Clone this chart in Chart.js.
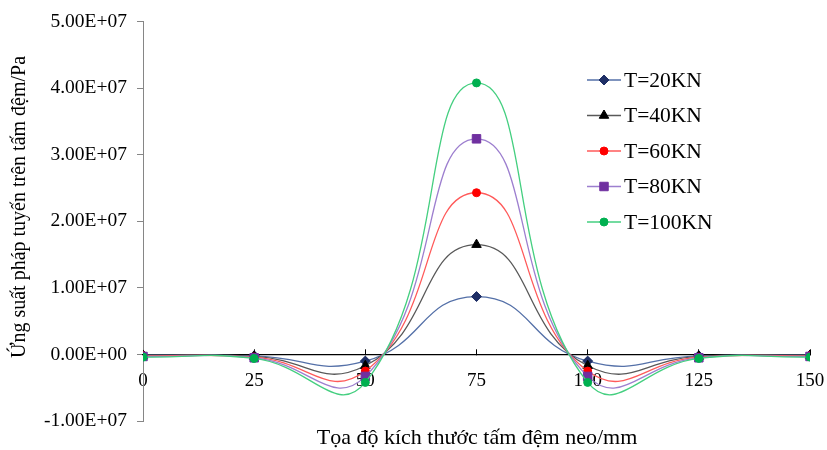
<!DOCTYPE html>
<html>
<head>
<meta charset="utf-8">
<script src="https://cdn.jsdelivr.net/npm/chart.js@4/dist/chart.umd.min.js"></script>
<style>
  html, body { margin: 0; background: #fff; }
  #wrap { width: 827px; height: 450px; }
</style>
</head>
<body>
<div id="wrap"><canvas id="myChart"></canvas></div>
<script>
    // 数据
    const xValues = [0, 25, 50, 75, 100, 125, 150];
    const seriesNames = ['T=20KN', 'T=40KN', 'T=60KN', 'T=80KN', 'T=100KN'];
    const t20 = [-0.1e6, -0.2e6, -1.0e6, 0.87e7, -1.0e6, -0.2e6, -0.1e6];
    const t40 = [-0.15e6, -0.3e6, -1.7e6, 1.65e7, -1.7e6, -0.3e6, -0.15e6];
    const t60 = [-0.2e6, -0.4e6, -2.5e6, 2.43e7, -2.5e6, -0.4e6, -0.2e6];
    const t80 = [-0.3e6, -0.5e6, -3.3e6, 3.24e7, -3.3e6, -0.5e6, -0.3e6];
    const t100 = [-0.4e6, -0.6e6, -4.2e6, 4.08e7, -4.2e6, -0.6e6, -0.4e6];
    const xTitle = 'Tọa độ kích thước tấm đệm neo/mm';
    const yTitle = 'Ứng suất pháp tuyến trên tấm đệm/Pa';

    const FONT = "'Liberation Serif', 'Times New Roman', serif";

    // 样式
    const styles = [
        { line: '#5470a8', point: '#1f2f66', shape: 'rectRot', r: 5 },
        { line: '#595959', point: '#000000', shape: 'triangle', r: 5.5 },
        { line: '#ff5a5a', point: '#ff0000', shape: 'circle', r: 4 },
        { line: '#9d7fcf', point: '#7030a0', shape: 'rect', r: 6 },
        { line: '#45cf80', point: '#00b050', shape: 'circle', r: 4 }
    ];
    const allSeries = [t20, t40, t60, t80, t100];

    const datasets = allSeries.map((vals, i) => ({
        label: seriesNames[i],
        data: vals.map((v, j) => ({ x: xValues[j], y: v })),
        borderColor: styles[i].line,
        borderWidth: 1.3,
        backgroundColor: styles[i].point,
        pointBackgroundColor: styles[i].point,
        pointBorderColor: styles[i].point,
        pointBorderWidth: 1,
        pointStyle: styles[i].shape,
        pointRadius: styles[i].r,
        tension: 0.5,
        order: 4 - i
    }));

    // 科学计数法
    function sci(v) {
        if (v === 0) return '0.00E+00';
        const parts = v.toExponential(2).split('e');
        const exp = parseInt(parts[1], 10);
        const sign = exp < 0 ? '-' : '+';
        return parts[0] + 'E' + sign + String(Math.abs(exp)).padStart(2, '0');
    }

    // 标题和图例
    const decorPlugin = {
        id: 'decor',
        afterDraw(chart) {
            const c = chart.ctx;
            c.save();
            c.fillStyle = '#000';
            c.textAlign = 'center';
            c.textBaseline = 'middle';
            c.font = '22px ' + FONT;
            c.fillText(xTitle, 477, 438);
            c.font = '20px ' + FONT;
            c.translate(20, 207);
            c.rotate(-Math.PI / 2);
            c.fillText(yTitle, 0, 0);
            c.restore();

            // 图例
            c.save();
            chart.data.datasets.forEach((ds, i) => {
                const y = 80 + i * 35.5;
                c.strokeStyle = ds.borderColor;
                c.lineWidth = 1.5;
                c.beginPath();
                c.moveTo(587, y);
                c.lineTo(621, y);
                c.stroke();
                c.fillStyle = ds.pointBackgroundColor;
                c.strokeStyle = ds.pointBorderColor;
                c.lineWidth = 1;
                Chart.helpers.drawPoint(c, {
                    pointStyle: ds.pointStyle, radius: ds.pointRadius, rotation: 0, borderWidth: 1
                }, 604, y);
                c.fillStyle = '#000';
                c.font = '21.5px ' + FONT;
                c.textAlign = 'left';
                c.textBaseline = 'middle';
                c.fillText(ds.label, 624, y + 1);
            });
            c.restore();
        }
    };

    const ctx = document.getElementById('myChart').getContext('2d');
    const chart = new Chart(ctx, {
        type: 'line',
        data: { datasets: datasets },
        options: {
            responsive: true,
            maintainAspectRatio: false,
            animation: false,
            layout: { padding: { top: 21, right: 17, bottom: 29, left: 0 } },
            plugins: { legend: { display: false }, tooltip: { enabled: false } },
            scales: {
                x: {
                    type: 'linear',
                    position: { y: 0 },
                    min: 0,
                    max: 150,
                    afterFit: s => { s.paddingLeft = 0; s.paddingRight = 0; },
                    ticks: {
                        stepSize: 25,
                        color: '#000',
                        font: { family: FONT, size: 19 },
                        padding: 21,
                        maxRotation: 0
                    },
                    grid: { drawOnChartArea: false, tickLength: -6, color: '#000' },
                    border: { color: '#000', width: 1.3 }
                },
                y: {
                    min: -1e7,
                    max: 5e7,
                    afterFit: s => { s.width = 143; },
                    ticks: {
                        stepSize: 1e7,
                        color: '#000',
                        font: { family: FONT, size: 19.5 },
                        padding: 10,
                        callback: v => sci(v)
                    },
                    grid: { drawOnChartArea: false, tickLength: 6, color: '#868686' },
                    border: { color: '#868686' }
                }
            }
        },
        plugins: [decorPlugin]
    });
</script>
</body>
</html>
